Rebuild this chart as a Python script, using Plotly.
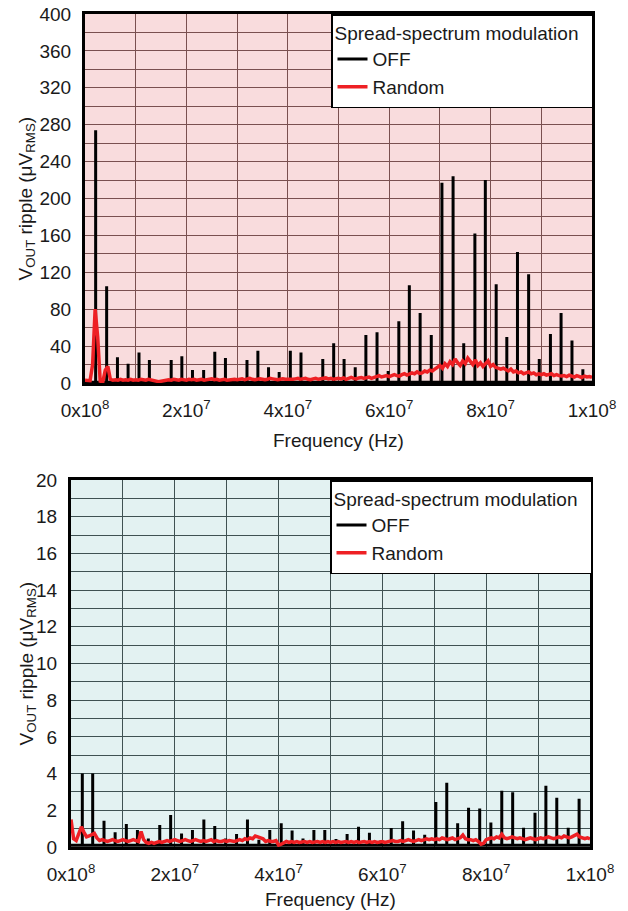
import numpy as np
import plotly.graph_objects as go

W, H = 628, 911
FONT = "Liberation Sans, Arial, sans-serif"

# ---------------- data ----------------
# Top chart (0-400 uV): OFF spikes (MHz, uVrms)
top_off_freq_mhz = [2.1, 4.27, 6.4, 8.5, 10.65, 12.7, 14.9, 17.0, 19.1, 21.2, 23.4, 25.6, 27.7,
                    29.8, 31.95, 34.1, 36.2, 38.3, 40.5, 42.6, 44.75, 46.9, 49.05, 51.1, 53.3, 55.4,
                    57.6, 59.8, 61.9, 63.97, 66.1, 68.3, 70.4, 72.6, 74.7, 76.9, 78.96, 81.1, 83.2,
                    85.3, 87.5, 89.6, 91.8, 93.9, 96.05, 98.2]
top_off_vals = [274, 105, 28, 21, 33, 25, 2, 25, 29, 14, 14, 34, 27,
                2, 25, 35, 17, 12, 35, 33, 2, 26, 43, 26, 17, 52,
                55, 13, 67, 106, 76, 52, 217, 224, 43, 162, 220, 107, 50,
                142, 118, 26, 53, 76, 46, 15]

# Random (red) trace, sampled every 0.5 MHz from 0 to 100 MHz
top_random_vals = [
    3, 3, 2.5, 20, 80, 50, 2, 1, 14, 18, 4, 3, 3.5, 3, 4, 3, 3.5, 3, 4, 3,
    3.5, 3, 4, 3.5, 3, 4, 3.5, 3, 2, 1.5, 2, 2.5, 3, 3.5, 3, 4, 3.5, 3, 4, 3.5,
    3, 4, 3.5, 4, 3, 3.5, 4, 3, 3.5, 4, 4.5, 3.5, 4, 3, 3.5, 4, 3, 3.5, 4, 4,
    3.5, 4, 4.5, 3.5, 4, 5, 4, 3.5, 4, 4.5, 4, 3.5, 4, 5, 4.5, 4, 3.5, 4, 4.5, 4,
    4, 3.5, 4, 4.5, 5, 4, 4.5, 5, 4, 3.5, 4.5, 5, 4, 4.5, 5, 5.5, 4.5, 5, 4, 5,
    5, 4.5, 5.5, 4, 5, 6, 5, 4.5, 5.5, 6, 5, 5.5, 6.5, 5, 6, 7, 8, 6.5, 7.5, 8,
    7, 8.5, 9, 8, 7.5, 9, 10, 8.5, 9.5, 11, 10, 12, 10.5, 11, 13, 12, 14, 13, 15, 17,
    19, 16, 21, 18, 23, 20, 26, 22, 19, 24, 21, 27, 23, 20, 25, 19, 22, 18, 21, 24,
    18, 20, 17, 16, 15, 16, 14, 13, 15, 12, 13, 11, 12, 10, 11, 12, 10, 11, 9, 10,
    9, 10, 8.5, 9, 10, 8, 9, 8, 7.5, 8, 7, 8.5, 7, 6.5, 8, 7, 6, 7.5, 6.5, 7,
    6]

# Bottom chart (0-20 uV)
bot_off_freq_mhz = [2.18, 4.18, 6.36, 8.5, 10.66, 12.8, 14.9, 17.1, 19.2, 21.3, 23.4, 25.6, 27.7,
                    29.8, 31.9, 34.0, 36.2, 38.3, 40.5, 42.6, 44.7, 46.8, 48.9, 51.06, 53.2, 55.4,
                    57.5, 59.7, 61.7, 63.9, 66.0, 68.15, 70.3, 72.4, 74.5, 76.6, 78.75, 80.9, 83.0,
                    85.1, 87.2, 89.4, 91.5, 93.6, 95.8, 97.9]
bot_off_vals = [4.0, 4.0, 1.43, 0.8, 1.25, 0.93, 0.47, 1.2, 1.74, 0.74, 0.93, 1.5, 1.14,
                0.47, 0.71, 1.5, 0.4, 0.93, 1.3, 0.9, 0.47, 0.93, 0.93, 0.44, 0.71, 1.1,
                0.78, 0.36, 1.03, 1.4, 0.9, 0.67, 2.45, 3.5, 1.29, 2.14, 2.1, 1.33, 3.07,
                2.98, 1.05, 1.87, 3.34, 2.69, 1.05, 2.63]

bot_random_vals = [
    1.5, 0.45, 0.35, 0.7, 1.1, 0.8, 0.55, 0.6, 0.65, 0.75, 0.5, 0.35, 0.4, 0.35, 0.3, 0.35, 0.4, 0.35, 0.3, 0.35,
    0.4, 0.35, 0.3, 0.35, 0.4, 0.35, 0.3, 0.85, 0.4, 0.25, 0.2, 0.25, 0.2, 0.25, 0.3, 0.25, 0.3, 0.35, 0.3, 0.35,
    0.4, 0.35, 0.3, 0.35, 0.4, 0.35, 0.3, 0.35, 0.4, 0.35, 0.3, 0.35, 0.3, 0.35, 0.4, 0.3, 0.35, 0.3, 0.3, 0.35,
    0.3, 0.35, 0.3, 0.3, 0.35, 0.4, 0.35, 0.45, 0.4, 0.5, 0.45, 0.6, 0.55, 0.5, 0.45, 0.3, 0.35, 0.3, 0.3, 0.35,
    0.1, 0.15, 0.25, 0.3, 0.25, 0.3, 0.25, 0.3, 0.25, 0.3, 0.3, 0.25, 0.3, 0.25, 0.3, 0.3, 0.25, 0.3, 0.25, 0.3,
    0.25, 0.3, 0.25, 0.3, 0.25, 0.3, 0.3, 0.25, 0.3, 0.25, 0.3, 0.25, 0.3, 0.3, 0.25, 0.3, 0.25, 0.3, 0.25, 0.3,
    0.3, 0.25, 0.3, 0.3, 0.35, 0.3, 0.3, 0.35, 0.3, 0.35, 0.4, 0.35, 0.3, 0.35, 0.4, 0.35, 0.4, 0.45, 0.4, 0.45,
    0.4, 0.45, 0.4, 0.5, 0.45, 0.4, 0.45, 0.5, 0.4, 0.45, 0.5, 0.65, 0.45, 0.4, 0.4, 0.35, 0.4, 0.3, 0.15, 0.2,
    0.4, 0.45, 0.5, 0.45, 0.55, 0.5, 0.7, 0.5, 0.45, 0.5, 0.55, 0.5, 0.45, 0.5, 0.45, 0.4, 0.45, 0.5, 0.45, 0.4,
    0.45, 0.5, 0.45, 0.5, 0.55, 0.5, 0.45, 0.5, 0.55, 0.5, 0.6, 0.55, 0.5, 0.55, 0.6, 0.7, 0.55, 0.5, 0.45, 0.5,
    0.45]

random_step_mhz = 0.5

x_tickvals = [i * 1e7 for i in range(11)]
x_ticktext = ["0x10<sup>8</sup>", "", "2x10<sup>7</sup>", "", "4x10<sup>7</sup>", "",
              "6x10<sup>7</sup>", "", "8x10<sup>7</sup>", "", "1x10<sup>8</sup>"]
top_y_tickvals = list(range(0, 401, 20))
top_y_ticktext = [str(v) if v % 40 == 0 else "" for v in top_y_tickvals]
bot_y_tickvals = list(range(0, 21, 1))
bot_y_ticktext = [str(v) if v % 2 == 0 else "" for v in bot_y_tickvals]

legend_title = "Spread-spectrum modulation"
x_title = "Frequency (Hz)"
y_title = "V<sub>OUT</sub> ripple (μV<sub>RMS</sub>)"


def spikes(freqs_mhz, vals, base):
    xs, ys = [0.0], [base]
    for f, v in zip(freqs_mhz, vals):
        xs += [f * 1e6, f * 1e6, f * 1e6]
        ys += [base, v, base]
    xs.append(1e8)
    ys.append(base)
    return xs, ys


def rand_x(vals):
    return [i * random_step_mhz * 1e6 for i in range(len(vals))]


fig = go.Figure()

tx, ty = spikes(top_off_freq_mhz, top_off_vals, 0.8)
fig.add_trace(go.Scatter(x=tx, y=ty, mode="lines", name="OFF",
                         line=dict(color="black", width=3), xaxis="x", yaxis="y", legend="legend"))
fig.add_trace(go.Scatter(x=rand_x(top_random_vals), y=top_random_vals, mode="lines", name="Random",
                         line=dict(color="#ee2024", width=3.5), xaxis="x", yaxis="y", legend="legend"))

bx, by = spikes(bot_off_freq_mhz, bot_off_vals, 0.1)
fig.add_trace(go.Scatter(x=bx, y=by, mode="lines", name="OFF",
                         line=dict(color="black", width=3), xaxis="x2", yaxis="y2", legend="legend2"))
fig.add_trace(go.Scatter(x=rand_x(bot_random_vals), y=bot_random_vals, mode="lines", name="Random",
                         line=dict(color="#ee2024", width=3.5), xaxis="x2", yaxis="y2", legend="legend2"))

# geometry (window pixels)
top_l, top_r, top_t, top_b = 85, 592, 14, 383
bot_l, bot_r, bot_t, bot_b = 71, 590, 480, 847


def px_x(p):
    return p / W


def px_y(p):
    return 1 - p / H


tickfont = dict(family=FONT, size=19, color="#1a1a1a")


def xaxis(l, r, anchor, gridcolor):
    return dict(domain=[px_x(l), px_x(r)], anchor=anchor, range=[0, 1e8], automargin=False,
                tickmode="array", tickvals=x_tickvals, ticktext=x_ticktext,
                showgrid=True, gridcolor=gridcolor, gridwidth=1, zeroline=False,
                showline=True, linecolor="black", linewidth=3, mirror=True,
                ticks="outside", ticklen=8, tickcolor="rgba(0,0,0,0)",
                ticklabeloverflow="allow",
                tickfont=tickfont, fixedrange=True)


def yaxis(t, b, anchor, rng, tv, tt, gridcolor):
    return dict(domain=[px_y(b), px_y(t)], anchor=anchor, range=rng, automargin=False,
                tickmode="array", tickvals=tv, ticktext=tt,
                showgrid=True, gridcolor=gridcolor, gridwidth=1, zeroline=False,
                showline=True, linecolor="black", linewidth=3, mirror=True,
                ticks="outside", ticklen=7, tickcolor="rgba(0,0,0,0)",
                ticklabeloverflow="allow",
                tickfont=tickfont, fixedrange=True)


legend_common = dict(bgcolor="white", bordercolor="black", borderwidth=1.5,
                     font=dict(family=FONT, size=19, color="#1a1a1a"),
                     title=dict(text=legend_title + "\u00a0\u00a0",
                                font=dict(family=FONT, size=19, color="#1a1a1a")),
                     xanchor="left", yanchor="top", tracegroupgap=0)

fig.update_layout(
    width=W, height=H, autosize=False,
    margin=dict(l=0, r=0, t=0, b=0, autoexpand=False),
    paper_bgcolor="white",
    plot_bgcolor="white",
    showlegend=True,
    font=dict(family=FONT, size=19, color="#1a1a1a"),
    xaxis=xaxis(top_l, top_r, "y", "#7a5050"),
    yaxis=yaxis(top_t, top_b, "x", [0, 400], top_y_tickvals, top_y_ticktext, "#7a5050"),
    xaxis2=xaxis(bot_l, bot_r, "y2", "#3f5253"),
    yaxis2=yaxis(bot_t, bot_b, "x2", [0, 20], bot_y_tickvals, bot_y_ticktext, "#3f5253"),
    legend=dict(x=px_x(331), y=px_y(14), **legend_common),
    legend2=dict(x=px_x(330), y=px_y(480), **legend_common),
    shapes=[
        dict(type="rect", xref="paper", yref="paper", layer="below", line=dict(width=0),
             x0=px_x(top_l), x1=px_x(top_r), y0=px_y(top_b), y1=px_y(top_t), fillcolor="#f9dcdd"),
        dict(type="rect", xref="paper", yref="paper", layer="below", line=dict(width=0),
             x0=px_x(bot_l), x1=px_x(bot_r), y0=px_y(bot_b), y1=px_y(bot_t), fillcolor="#e3f2f2"),
    ],
    annotations=[
        dict(text=x_title, x=px_x((top_l + top_r) / 2), y=px_y(440), xref="paper", yref="paper",
             showarrow=False, xanchor="center", yanchor="middle", font=dict(family=FONT, size=19, color="#1a1a1a")),
        dict(text=x_title, x=px_x((bot_l + bot_r) / 2), y=px_y(899), xref="paper", yref="paper",
             showarrow=False, xanchor="center", yanchor="middle", font=dict(family=FONT, size=19, color="#1a1a1a")),
        dict(text=y_title, x=px_x(27), y=px_y((top_t + top_b) / 2), xref="paper", yref="paper",
             showarrow=False, textangle=-90, xanchor="center", yanchor="middle",
             font=dict(family=FONT, size=19, color="#1a1a1a")),
        dict(text=y_title, x=px_x(27), y=px_y((bot_t + bot_b) / 2), xref="paper", yref="paper",
             showarrow=False, textangle=-90, xanchor="center", yanchor="middle",
             font=dict(family=FONT, size=19, color="#1a1a1a")),
    ],
)

# remove the browser's default 8px page margin so the 628x911 figure fills the window
fig.write_html("out.html",
               config={"displayModeBar": False},
               post_script="document.body.style.margin='0';document.body.style.overflow='hidden';")
